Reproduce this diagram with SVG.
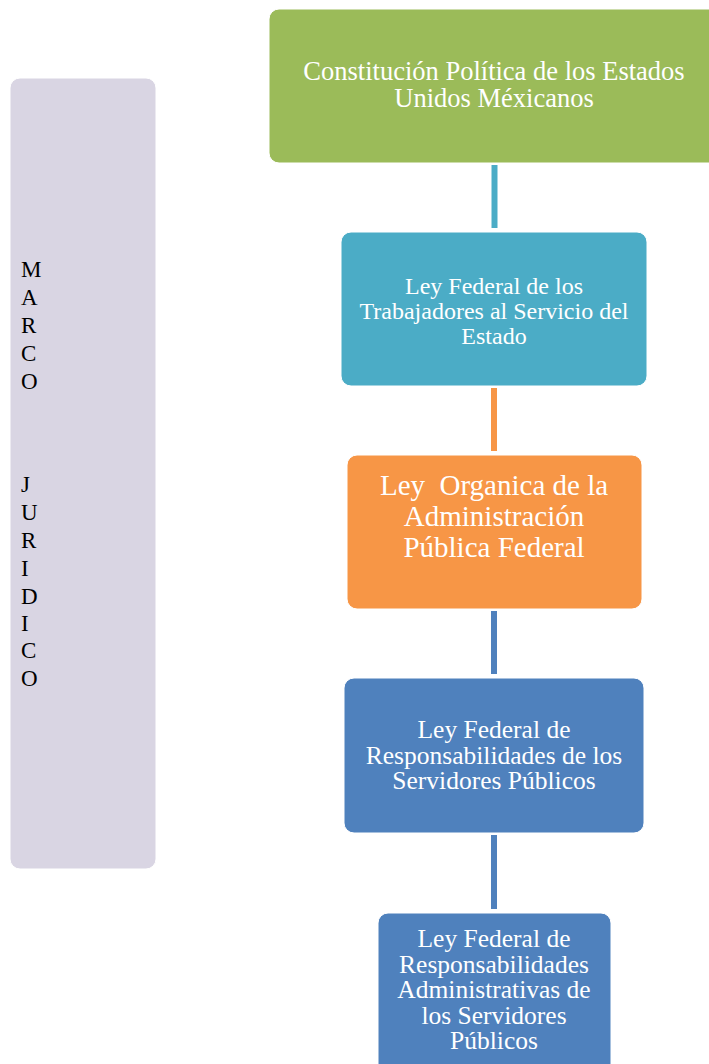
<svg xmlns="http://www.w3.org/2000/svg" width="709" height="1064" viewBox="0 0 709 1064">
<style>
.box{stroke:#ffffff;stroke-width:1}
.t{font-family:"Liberation Serif","Times New Roman",serif;fill:#ffffff;text-anchor:middle;white-space:pre}
.side{font-family:"Liberation Serif","Times New Roman",serif;fill:#000000;font-size:23px}
.conn{stroke-width:6;fill:none}
</style>
<rect width="709" height="1064" fill="#ffffff"/>
<g id="connectors">
<line class="conn" x1="494.5" y1="165" x2="494.5" y2="228" stroke="#4bacc6"/>
<line class="conn" x1="494" y1="388" x2="494" y2="451" stroke="#f79646"/>
<line class="conn" x1="494" y1="611" x2="494" y2="674" stroke="#4f81bd"/>
<line class="conn" x1="494" y1="835" x2="494" y2="909" stroke="#4f81bd"/>
</g>
<g id="marco">
<rect class="box" x="10" y="78" width="146" height="791" rx="10" fill="#d9d5e3"/>
<text class="side" x="21"><tspan x="21" y="277">M</tspan><tspan x="21" y="305">A</tspan><tspan x="21" y="333">R</tspan><tspan x="21" y="361">C</tspan><tspan x="21" y="389">O</tspan><tspan x="21" y="492">J</tspan><tspan x="21" y="520">U</tspan><tspan x="21" y="548">R</tspan><tspan x="21" y="576">I</tspan><tspan x="21" y="604">D</tspan><tspan x="21" y="631">I</tspan><tspan x="21" y="658">C</tspan><tspan x="21" y="686">O</tspan></text>
</g>
<g id="constitucion">
<rect class="box" x="269" y="9" width="460" height="154" rx="10" fill="#9bbb59"/>
<text class="t" font-size="26.5"><tspan x="494" y="80">Constitución Política de los Estados</tspan><tspan x="494" y="107">Unidos Méxicanos</tspan></text>
</g>
<g id="ley-trabajadores">
<rect class="box" x="341" y="232" width="306" height="154" rx="10" fill="#4bacc6"/>
<text class="t" font-size="24"><tspan x="494" y="294">Ley Federal de los</tspan><tspan x="494" y="319">Trabajadores al Servicio del</tspan><tspan x="494" y="344">Estado</tspan></text>
</g>
<g id="ley-organica">
<rect class="box" x="347" y="455" width="295" height="154" rx="10" fill="#f79646"/>
<text class="t" font-size="29"><tspan x="494" y="495">Ley  Organica de la</tspan><tspan x="494" y="526">Administración</tspan><tspan x="494" y="557">Pública Federal</tspan></text>
</g>
<g id="ley-responsabilidades">
<rect class="box" x="344" y="678" width="300" height="155" rx="10" fill="#4f81bd"/>
<text class="t" font-size="25.5"><tspan x="494" y="738">Ley Federal de</tspan><tspan x="494" y="764">Responsabilidades de los</tspan><tspan x="494" y="789">Servidores Públicos</tspan></text>
</g>
<g id="ley-responsabilidades-admin">
<rect class="box" x="378" y="913" width="233" height="170" rx="10" fill="#4f81bd"/>
<text class="t" font-size="25.5"><tspan x="494" y="947">Ley Federal de</tspan><tspan x="494" y="973">Responsabilidades</tspan><tspan x="494" y="998">Administrativas de</tspan><tspan x="494" y="1024">los Servidores</tspan><tspan x="494" y="1049">Públicos</tspan></text>
</g>
</svg>
